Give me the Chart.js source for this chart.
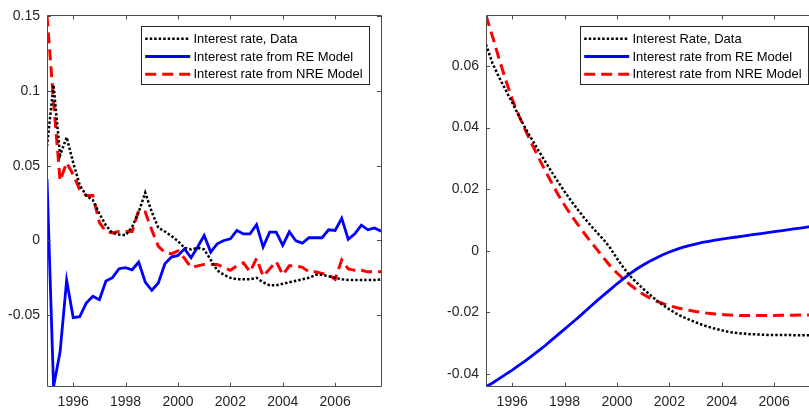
<!DOCTYPE html>
<html><head><meta charset="utf-8">
<script src="https://cdn.jsdelivr.net/npm/chart.js@4.4.1/dist/chart.umd.min.js"></script>
<style>
html,body{margin:0;padding:0;background:#fff;overflow:hidden;width:809px;height:408px;position:relative;}
#c1{position:absolute;left:0;top:0;}
#c2{position:absolute;left:400px;top:0;}
</style></head><body>
<canvas id="c1" width="400" height="408"></canvas>
<canvas id="c2" width="430" height="408"></canvas>
<script>
// ---------- DATA ----------
const quarters = [1995,1995.25,1995.5,1995.75,1996,1996.25,1996.5,1996.75,1997,1997.25,1997.5,1997.75,
  1998,1998.25,1998.5,1998.75,1999,1999.25,1999.5,1999.75,2000,2000.25,2000.5,2000.75,
  2001,2001.25,2001.5,2001.75,2002,2002.25,2002.5,2002.75,2003,2003.25,2003.5,2003.75,
  2004,2004.25,2004.5,2004.75,2005,2005.25,2005.5,2005.75,2006,2006.25,2006.5,2006.75,
  2007,2007.25,2007.5,2007.75];
const xTicks = [1996,1998,2000,2002,2004,2006];
const yTicksLeft = [-0.05,0,0.05,0.1,0.15];
const yTicksRight = [-0.04,-0.02,0,0.02,0.04,0.06];
const yRangeLeft = [-0.0978,0.1505];
const yRangeRight = [-0.0441,0.0764];

const legendLeft = ['Interest rate, Data','Interest rate from RE Model','Interest rate from NRE Model'];
const legendRight = ['Interest Rate, Data','Interest rate from RE Model','Interest rate from NRE Model'];

const leftData = [0.063,0.104,0.057,0.069,0.052,0.037,0.030,0.027,0.018,0.010,0.005,0.004,
  0.0035,0.009,0.019,0.032,0.019,0.0085,0.006,0.003,-0.0005,-0.005,-0.006,-0.005,
  -0.006,-0.013,-0.020,-0.023,-0.025,-0.026,-0.026,-0.026,-0.025,-0.028,-0.030,-0.030,
  -0.029,-0.028,-0.027,-0.026,-0.025,-0.023,-0.023,-0.024,-0.025,-0.026,-0.0265,-0.0265,
  -0.0265,-0.0265,-0.0265,-0.026];
const leftRE = [0.041,-0.0978,-0.0745,-0.0267,-0.0516,-0.051,-0.0418,-0.0373,-0.0396,-0.0271,-0.0249,-0.0189,
  -0.0182,-0.0196,-0.0144,-0.0278,-0.0333,-0.0284,-0.0156,-0.0111,-0.0100,-0.0056,-0.0116,-0.0044,
  0.0033,-0.0078,-0.0022,0.0000,0.0011,0.0067,0.0044,0.0044,0.0105,-0.0044,0.0056,0.0056,
  -0.0033,0.0058,-0.0002,-0.0018,0.0018,0.0018,0.0018,0.0071,0.0067,0.0148,0.0008,0.0044,
  0.0102,0.0071,0.0084,0.0062];
const leftNRE = [0.1505,0.093,0.040,0.052,0.044,0.034,0.030,0.030,0.012,0.006,0.005,0.006,
  0.006,0.006,0.020,0.019,0.007,-0.004,-0.008,-0.009,-0.007,-0.012,-0.018,-0.017,
  -0.016,-0.016,-0.016,-0.018,-0.020,-0.017,-0.015,-0.021,-0.012,-0.024,-0.019,-0.014,
  -0.023,-0.017,-0.017,-0.018,-0.021,-0.021,-0.022,-0.023,-0.026,-0.013,-0.019,-0.020,
  -0.020,-0.021,-0.021,-0.021];

const rightData = [0.0670,0.0608,0.0563,0.0522,0.0481,0.0439,0.0398,0.0362,0.0326,0.0291,0.0257,0.0224,
  0.0192,0.0162,0.0134,0.0107,0.0082,0.0058,0.0035,0.0008,-0.0025,-0.0055,-0.0082,-0.0103,
  -0.0123,-0.0142,-0.0160,-0.0176,-0.0190,-0.0203,-0.0214,-0.0223,-0.0232,-0.0240,-0.0247,-0.0253,
  -0.0258,-0.0263,-0.0266,-0.0268,-0.0270,-0.0271,-0.0272,-0.0273,-0.0273,-0.0273,-0.0273,-0.0274,
  -0.0274,-0.0274,-0.0274,-0.0274];
const rightRE = [-0.0441,-0.0429,-0.0415,-0.0401,-0.0387,-0.0372,-0.0357,-0.0341,-0.0325,-0.0308,-0.0290,-0.0272,
  -0.0254,-0.0236,-0.0218,-0.0199,-0.0180,-0.0161,-0.0143,-0.0125,-0.0107,-0.0090,-0.0074,-0.0059,
  -0.0046,-0.0034,-0.0023,-0.0013,-0.0004,0.0004,0.0011,0.0017,0.0022,0.0027,0.0031,0.0035,
  0.0038,0.0041,0.0044,0.0047,0.0050,0.0053,0.0056,0.0059,0.0062,0.0065,0.0068,0.0071,
  0.0074,0.0077,0.0080,0.0082];
const rightNRE = [0.0764,0.0695,0.0623,0.0555,0.0492,0.0440,0.0392,0.0347,0.0303,0.0262,0.0222,0.0183,
  0.0148,0.0116,0.0086,0.0057,0.0029,0.0003,-0.0024,-0.0050,-0.0072,-0.0092,-0.0110,-0.0126,
  -0.0141,-0.0153,-0.0163,-0.0171,-0.0178,-0.0184,-0.0189,-0.0193,-0.0197,-0.0200,-0.0203,-0.0205,
  -0.0207,-0.0208,-0.0209,-0.0210,-0.0210,-0.0210,-0.0210,-0.0210,-0.0210,-0.0209,-0.0209,-0.0209,
  -0.0208,-0.0208,-0.0208,-0.0208];

// ---------- STYLE ----------
const FONT = '"Liberation Sans", Arial, Helvetica, sans-serif';
const AXIS_COLOR = '#4d4d4d';
const TEXT_COLOR = '#262626';

function pts(vals){ return vals.map((v,i)=>({x:quarters[i], y:v})); }

function datasets(labels, data, re, nre){
  return [
    {label:labels[0], data:pts(data), borderColor:'#000000', borderWidth:2.5, borderDash:[2.5,2],
     borderCapStyle:'butt', pointRadius:0, tension:0, clip:0},
    {label:labels[1], data:pts(re), borderColor:'#0000ff', borderWidth:2.8,
     pointRadius:0, tension:0, clip:0},
    {label:labels[2], data:pts(nre), borderColor:'#ff0000', borderWidth:3, borderDash:[11,6],
     borderCapStyle:'butt', pointRadius:0, tension:0, clip:0}
  ];
}

const matlabAxes = {
  id:'matlabAxes',
  afterDatasetsDraw(chart){
    const ctx = chart.ctx, a = chart.chartArea;
    const xs = chart.scales.x, ys = chart.scales.y;
    ctx.save();
    ctx.strokeStyle = AXIS_COLOR; ctx.lineWidth = 1; ctx.setLineDash([]);
    ctx.beginPath();
    ctx.rect(Math.round(a.left)+0.5, Math.round(a.top)+0.5, Math.round(a.right-a.left), Math.round(a.bottom-a.top));
    ctx.stroke();
    const L = 4;
    ctx.beginPath();
    xs.ticks.forEach(t=>{
      const px = Math.round(xs.getPixelForValue(t.value))+0.5;
      ctx.moveTo(px, a.bottom); ctx.lineTo(px, a.bottom-L);
      ctx.moveTo(px, a.top); ctx.lineTo(px, a.top+L);
    });
    ys.ticks.forEach(t=>{
      const py = Math.round(ys.getPixelForValue(t.value))+0.5;
      ctx.moveTo(a.left, py); ctx.lineTo(a.left+L, py);
      ctx.moveTo(a.right, py); ctx.lineTo(a.right-L, py);
    });
    ctx.stroke();
    // legend
    const bx = Math.round(a.left+94.3)+0.5, by = Math.round(a.top+10.7)+0.5, bw = 228, bh = 58;
    ctx.fillStyle = '#ffffff';
    ctx.fillRect(bx, by, bw, bh);
    ctx.strokeStyle = '#262626';
    ctx.strokeRect(bx, by, bw, bh);
    ctx.font = '13px ' + FONT;
    ctx.textBaseline = 'middle';
    chart.data.datasets.forEach((ds,k)=>{
      const ry = by + 12.3 + k*17.7;
      ctx.save();
      ctx.strokeStyle = ds.borderColor; ctx.lineWidth = ds.borderWidth;
      ctx.setLineDash(ds.borderDash || []); ctx.lineCap = 'butt';
      ctx.beginPath(); ctx.moveTo(bx+3.7, ry); ctx.lineTo(bx+48.7, ry); ctx.stroke();
      ctx.restore();
      ctx.fillStyle = '#000000';
      ctx.fillText(ds.label, bx+52, ry+0.5);
    });
    ctx.restore();
  }
};

function makeChart(id, labels, data, re, nre, yTicks, yRange, yWidth, padRight){
  return new Chart(document.getElementById(id), {
    type:'line',
    data:{datasets:datasets(labels, data, re, nre)},
    options:{
      responsive:false, animation:false, devicePixelRatio:1,
      layout:{padding:{left:0, top:14.3, right:padRight, bottom:0}},
      plugins:{legend:{display:false}, tooltip:{enabled:false}},
      scales:{
        x:{type:'linear', min:1995, max:2007.75,
           grid:{display:false, drawTicks:false, tickLength:0}, border:{display:false},
           afterBuildTicks:s=>{ s.ticks = xTicks.map(v=>({value:v})); },
           afterFit:s=>{ s.height = 21.3; },
           ticks:{autoSkip:false, maxRotation:0, padding:7, color:TEXT_COLOR,
                  font:{family:FONT, size:14}, callback:v=>String(v)}},
        y:{type:'linear', min:yRange[0], max:yRange[1],
           grid:{display:false, drawTicks:false, tickLength:0}, border:{display:false},
           afterBuildTicks:s=>{ s.ticks = yTicks.map(v=>({value:v})); },
           afterFit:s=>{ s.width = yWidth; },
           ticks:{autoSkip:false, padding:7, color:TEXT_COLOR,
                  font:{family:FONT, size:14}, callback:v=>String(v)}}
      }
    },
    plugins:[matlabAxes]
  });
}

makeChart('c1', legendLeft, leftData, leftRE, leftNRE, yTicksLeft, yRangeLeft, 47, 19);
makeChart('c2', legendRight, rightData, rightRE, rightNRE, yTicksRight, yRangeRight, 86, 10);
</script>
</body></html>
